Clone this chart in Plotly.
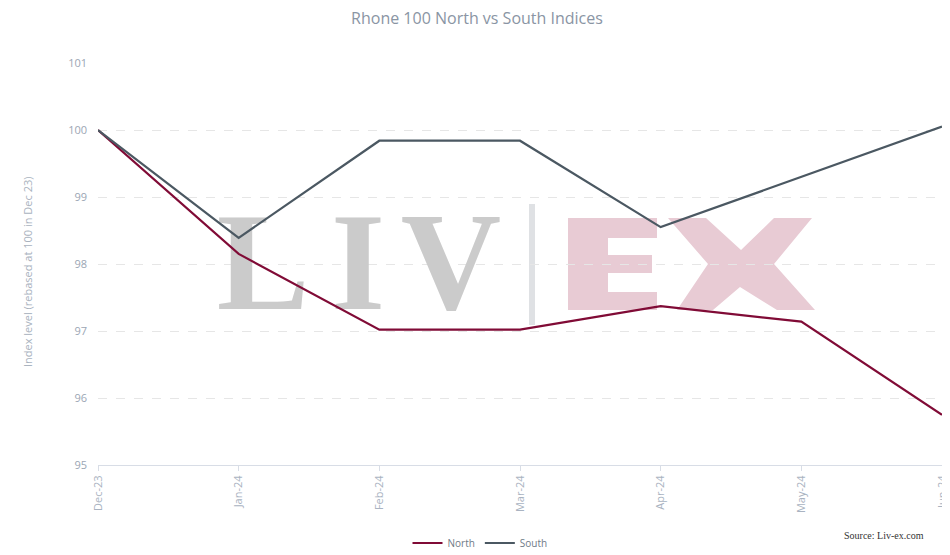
import plotly.graph_objects as go

months = ["Dec-23", "Jan-24", "Feb-24", "Mar-24", "Apr-24", "May-24", "Jun-24"]
north = [100.0, 98.15, 97.02, 97.02, 97.37, 97.14, 95.75]
south = [100.0, 98.39, 99.84, 99.84, 98.55, 99.30, 100.05]
y_ticks = [95, 96, 97, 98, 99, 100, 101]
x_idx = list(range(len(months)))

OFF = 8  # default page body margin
W, H = 950 - OFF, 555 - OFF
L, R, T, B = 98 - OFF, 8, 63 - OFF, 90
PW, PH = W - L - R, H - T - B
PLOT_L, PLOT_T = L + OFF, T + OFF  # page pixel coords of plot area


def px(xp):
    return (xp - PLOT_L) / PW


def py(yp):
    return (PLOT_T + PH - yp) / PH


def poly(points):
    return "M " + " L ".join(f"{px(a):.5f},{py(b):.5f}" for a, b in points) + " Z"


def dx(xp):
    return (xp - PLOT_L) / PW * (len(months) - 1)


def dy(yp):
    return 101 - (yp - PLOT_T) / PH * 6


fig = go.Figure()

# watermark "LIV" (below the lines)
fig.add_trace(go.Scatter(
    x=[dx(263), dx(358), dx(451)], y=[dy(274)] * 3, mode="text", text=["L", "I", "V"],
    textposition="middle center", hoverinfo="skip", showlegend=False,
    textfont=dict(family="Liberation Serif", size=139, color="#cbcbcb", weight="bold")))

fig.add_trace(go.Scatter(x=x_idx, y=north, name="North", mode="lines",
                         line=dict(color="#800b36", width=2.2)))
fig.add_trace(go.Scatter(x=x_idx, y=south, name="South", mode="lines",
                         line=dict(color="#4b5862", width=2.2)))

# watermark separator and "EX"
fig.add_shape(type="rect", xref="paper", yref="paper", x0=px(529), x1=px(535), y0=py(325), y1=py(204),
              fillcolor="#dfe1e4", line=dict(width=0), layer="below")
E_pts = [(568, 218), (657, 218), (657, 238), (608, 238), (608, 255), (652, 255), (652, 273),
         (608, 273), (608, 292), (657, 292), (657, 310), (568, 310)]
X_pts = [(668, 218), (706, 218), (741, 250), (774, 218), (812, 218), (774, 264), (815, 310),
         (777, 310), (740, 287), (713, 310), (677, 310), (708, 264)]
for pts in (E_pts, X_pts):
    fig.add_shape(type="path", xref="paper", yref="paper", path=poly(pts),
                  fillcolor="#e8cbd4", line=dict(width=0), layer="below")

fig.add_annotation(xref="paper", yref="paper", x=px(926), y=py(535), text="Source: Liv-ex.com", showarrow=False,
                   font=dict(family="Liberation Serif", size=10, color="#333333"), xanchor="right", yanchor="middle")

fig.add_annotation(xref="paper", yref="paper", x=px(27), y=py(272), text="Index level (rebased at 100 in Dec 23)",
                   showarrow=False, textangle=-90, xanchor="center", yanchor="middle",
                   font=dict(family="Open Sans", size=11, color="#a9b2be"))

fig.update_layout(
    width=W, height=H,
    margin=dict(l=L, r=R, t=T, b=B, autoexpand=False),
    paper_bgcolor="white", plot_bgcolor="white",
    title=dict(text="Rhone 100 North vs South Indices", x=px(477), xanchor="center",
               y=1 - (18 - OFF) / H, yanchor="middle", xref="paper",
               font=dict(family="Open Sans", size=16, color="#8a95a4")),
    font=dict(family="Open Sans", color="#9aa3b0", size=11),
    showlegend=True,
    legend=dict(orientation="h", x=px(480), xanchor="center", y=py(543), yanchor="middle",
                font=dict(size=10, color="#6f7a87"), itemwidth=30),
    xaxis=dict(range=[0, 6], tickvals=x_idx, ticktext=months, tickangle=-90, showgrid=False, zeroline=False,
               showline=True, linecolor="#d8dde6", ticks="outside", tickcolor="#d8dde6", ticklen=5,
               tickfont=dict(size=11, color="#a9b3c1"), automargin=False),
    yaxis=dict(range=[95, 101], tickvals=y_ticks, showgrid=True, gridcolor="#e6e6e6", griddash="dash",
               zeroline=False, showline=False, ticks="", ticklabelstandoff=10,
               tickfont=dict(size=11, color="#9ba6b4"), automargin=False),
)

fig.write_html("out.html")
